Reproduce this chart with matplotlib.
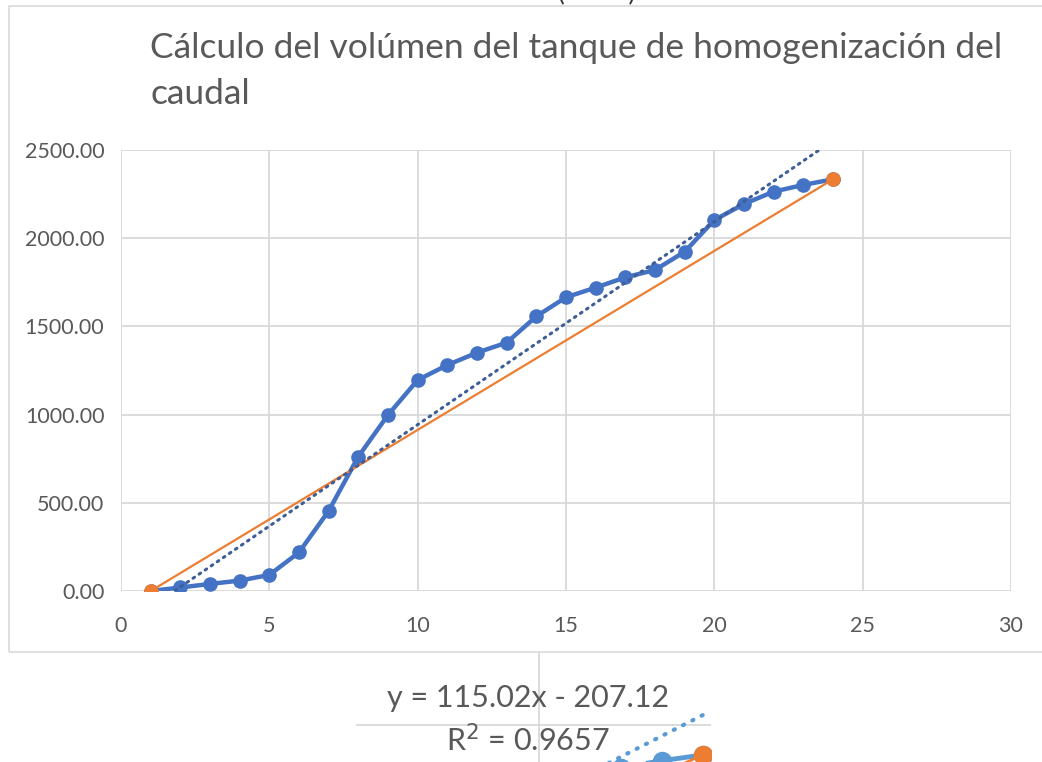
import numpy as np
import matplotlib
matplotlib.use("Agg")
import matplotlib.pyplot as plt
from matplotlib.patches import Rectangle

plt.rcParams['font.family'] = ['Lato', 'DejaVu Sans']

# data
hours = [1, 2, 3, 4, 5, 6, 7, 8, 9, 10, 11, 12,
         13, 14, 15, 16, 17, 18, 19, 20, 21, 22, 23, 24]
volume = [0, 20, 40, 59, 91, 219, 454, 762, 998, 1196, 1281, 1351,
          1408, 1557, 1665, 1720, 1778, 1820, 1923, 2103, 2194, 2264, 2302, 2334]
line_x = [1, 24]
line_y = [0, 2334]
slope, intercept = 115.02, -207.12
r2 = 0.9657

title = "Cálculo del volúmen del tanque de homogenización del\ncaudal"
xticks = [0, 5, 10, 15, 20, 25, 30]
yticks = [0, 500, 1000, 1500, 2000, 2500]

blue = "#4472C4"
light_blue = "#5B9BD5"
orange = "#ED7D31"
grid = "#D9D9D9"
txt = "#595959"

W, H = 1042, 762
fig = plt.figure(figsize=(W / 100, H / 100), dpi=100)

# chart frame
fig.patches.append(Rectangle((9 / W, 1 - 652 / H), 1.2, (652 - 6) / H,
                             transform=fig.transFigure, fill=False,
                             edgecolor=grid, lw=1.2))

# cropped text at the very top
fig.text(597 / W, 1 - 1 / H, "(          )", ha='center', va='baseline',
         fontsize=18, color='#333333')

ax = fig.add_axes([121 / W, 1 - 591 / H, (1011 - 121) / W, (591 - 150) / H])
ax.set_xlim(0, 30)
ax.set_ylim(0, 2500)
ax.set_xticks(xticks)
ax.set_yticks(yticks)
ax.set_yticklabels(["%.2f" % v for v in yticks])
ax.grid(True, color=grid, lw=1.3)
ax.set_axisbelow(True)
for s in ax.spines.values():
    s.set_visible(False)
ax.tick_params(length=0, labelsize=15.5, colors=txt, pad=12)
ax.tick_params(axis='x', pad=18)

ax.plot(hours, volume, color=blue, lw=3.2, marker='o', markersize=9.5,
        zorder=3)
ax.plot(line_x, line_y, color=orange, lw=1.6, marker='o', markersize=9.5,
        zorder=4)
tx = np.array([hours[0], hours[-1]])
ax.plot(tx, slope * tx + intercept, color="#3F5E96", lw=2.2, ls=(0, (0.6, 1.8)),
        dash_capstyle='round', zorder=5)

t1, t2 = title.split("\n")
fig.text(150 / W, 1 - 48 / H, t1, ha='left', va='center', fontsize=25.5,
         color=txt)
fig.text(150 / W, 1 - 94 / H, t2, ha='left', va='center', fontsize=25.5,
         color=txt)

# lower cropped snippet of the same chart
ax2 = fig.add_axes([356 / W, 0, (711 - 356) / W, (762 - 653) / H])
ax2.set_xlim(15.54, 24.2)
ax2.set_ylim(2295, 2895)
ax2.set_xticks([20])
ax2.set_yticks([2500])
ax2.grid(True, color=grid, lw=1.3)
ax2.set_axisbelow(True)
for s in ax2.spines.values():
    s.set_visible(False)
ax2.tick_params(length=0, labelbottom=False, labelleft=False)
ax2.plot(hours, volume, color=light_blue, lw=3.5, marker='o', markersize=13,
         zorder=3)
ax2.plot(line_x, line_y, color=orange, lw=2, marker='o', markersize=13,
         zorder=4)
ax2.plot(tx, slope * tx + intercept, color=light_blue, lw=3, ls=(0, (0.3, 2.2)),
         dash_capstyle='round', zorder=5)
ax2.text(528 / W, 1 - 698 / H, "y = %.2fx - %.2f" % (slope, -intercept),
         transform=fig.transFigure, ha='center', va='center', fontsize=22,
         color=txt)
ax2.text(528 / W, 1 - 740 / H, "R$^2$ = %.4f" % r2,
         transform=fig.transFigure, ha='center', va='center', fontsize=22,
         color=txt)

fig.savefig("out.png", dpi=100)
